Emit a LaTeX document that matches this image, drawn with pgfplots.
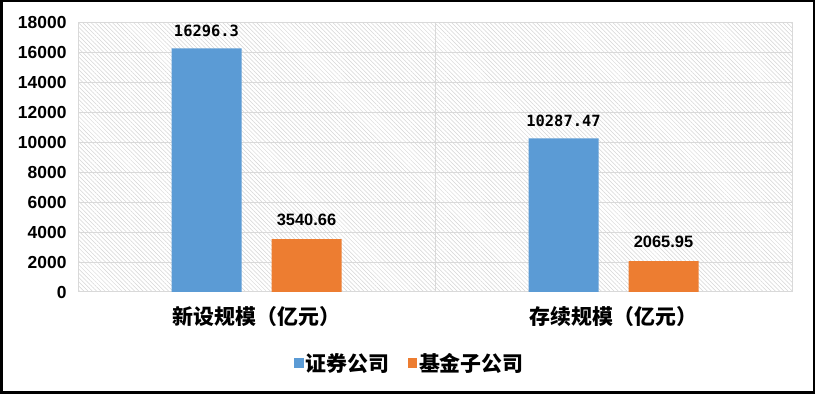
\documentclass[border=0pt]{standalone}
\usepackage{fontspec}
\setmainfont{Liberation Sans}
\newfontfamily\cjk{Noto Sans CJK SC}
\newfontfamily\monob{DejaVu Sans Mono}
\usepackage{pgfplots}
\pgfplotsset{compat=1.18}
\usetikzlibrary{patterns.meta}
\definecolor{cblue}{HTML}{5B9BD5}
\definecolor{corange}{HTML}{ED7D31}
\definecolor{gridc}{HTML}{D9D9D9}
\definecolor{hatchc}{HTML}{D6D6D6}
\begin{document}
\begin{tikzpicture}
\useasboundingbox (0,0) rectangle (815bp,394bp);
\fill[white] (0,0) rectangle (815bp,394bp);
\begin{axis}[
  at={(78bp,102bp)}, anchor=south west,
  scale only axis, width=714bp, height=269bp,
  ybar=30bp, bar width=70bp,
  xmin=-0.5, xmax=1.5, ymin=0, ymax=18000,
  axis background/.style={pattern={Lines[angle=-45,distance=3bp,line width=0.5bp]}, pattern color=hatchc},
  axis line style={gridc, line width=1bp},
  ytick={0,2000,...,18000}, scaled y ticks=false,
  ymajorgrids, major grid style={gridc, line width=1bp},
  major tick length=0pt,
  xtick={0,1}, xticklabels={新设规模（亿元）,存续规模（亿元）},
  xticklabel style={font=\cjk\bfseries\fontsize{21}{21}\selectfont, yshift=-11bp},
  yticklabel style={font=\bfseries\fontsize{17.5}{17.5}\selectfont, xshift=-8bp},
  /pgf/number format/assume math mode=true,
  /pgf/number format/1000 sep={},
  extra x ticks={0.5}, extra x tick labels={}, extra x tick style={grid=major},
  legend style={at={(0.465,-0.264)}, anchor=center, draw=none, fill=none, legend columns=2,
    font=\cjk\bfseries\fontsize{21}{21}\selectfont,
    /tikz/every even column/.append style={column sep=16bp}},
  legend image code/.code={\fill[#1] (0bp,-4.5bp) rectangle (9.5bp,5bp);},
]
\addplot[fill=cblue, draw=none,
  point meta=explicit symbolic, nodes near coords,
  nodes near coords style={font=\monob\bfseries\fontsize{15.5}{15.5}\selectfont, anchor=south, yshift=8bp, black}]
  coordinates {(0,16296.3) [16296.3] (1,10287.47) [10287.47]};
\addlegendentry{证券公司}
\addplot[fill=corange, draw=none,
  point meta=explicit symbolic, nodes near coords,
  nodes near coords style={font=\bfseries\fontsize{16.5}{16.5}\selectfont, anchor=south, yshift=10bp, black}]
  coordinates {(0,3540.66) [3540.66] (1,2065.95) [2065.95]};
\addlegendentry{基金子公司}
\end{axis}
\draw[line width=2.5bp] (1.25bp,1.25bp) rectangle (813.75bp,392.75bp);
\end{tikzpicture}
\end{document}
